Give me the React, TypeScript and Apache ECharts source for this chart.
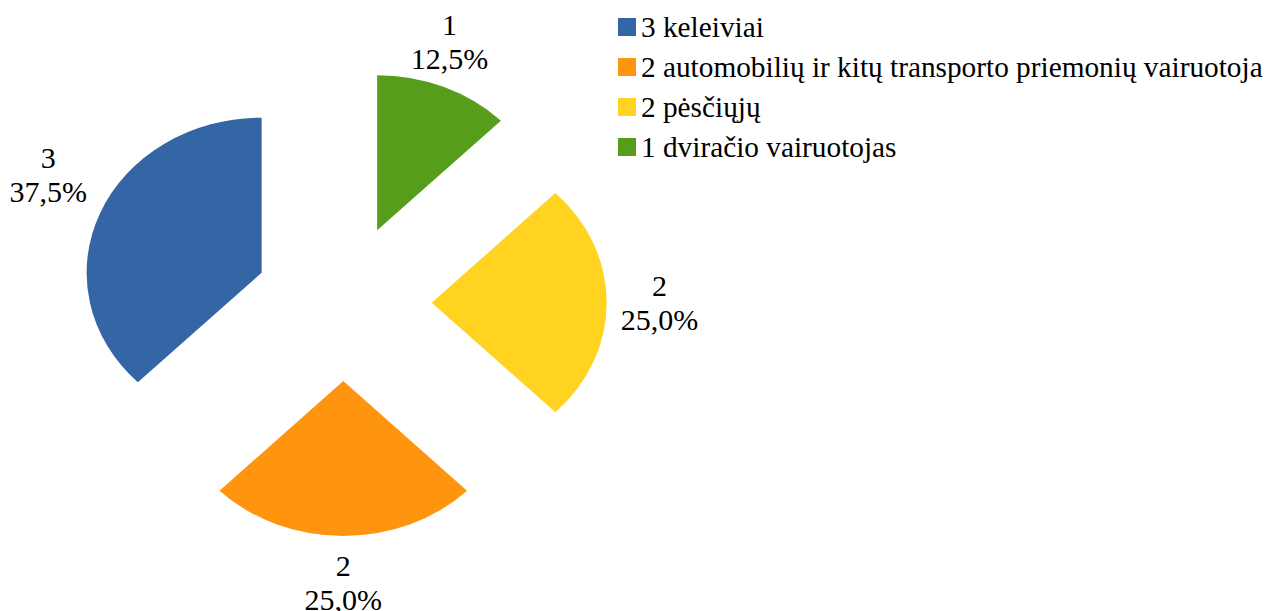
import React, { useEffect, useRef } from "react";
import * as echarts from "echarts";

// ---- data ----
const categories = [
  "3 keleiviai",
  "2 automobilių ir kitų transporto priemonių vairuotoja",
  "2 pėsčiųjų",
  "1 dviračio vairuotojas",
];
const values = [3, 2, 2, 1];
const colors = ["#3465a4", "#ff950e", "#ffd320", "#579d1c"];

// ---- layout ----
const CX = 343.3;
const CY = 302.7;
const R = 175;
const K = 0.886; // vertical squash of the pie
const OFFSET = 88.4; // explosion distance
const LABEL_GAP = 14;
const FONT_FAMILY = "Liberation Serif";
const LABEL_SIZE = 30;
const LEGEND_SIZE = 29.3;

const total = values.reduce((a, b) => a + b, 0);
const befores = values.map((_, i) => values.slice(0, i).reduce((a, b) => a + b, 0));

let measureCtx: CanvasRenderingContext2D | null = null;
function textWidth(s: string): number {
  if (!measureCtx) {
    const c = document.createElement("canvas");
    measureCtx = c.getContext("2d");
  }
  if (!measureCtx) return s.length * LABEL_SIZE * 0.5;
  measureCtx.font = `${LABEL_SIZE}px "${FONT_FAMILY}"`;
  return measureCtx.measureText(s).width;
}

function fmtPct(v: number): string {
  return ((v / total) * 100).toFixed(1).replace(".", ",") + "%";
}

function makeRenderItem(color: string) {
  return (params: any, api: any) => {
    const v = api.value(0) as number;
    const before = api.value(1) as number;
    // angles measured clockwise from 12 o'clock; slices run counter-clockwise
    const a0 = (-(before + v) / total) * Math.PI * 2;
    const a1 = (-before / total) * Math.PI * 2;
    const mid = (a0 + a1) / 2;
    const s = Math.sin(mid);
    const c = Math.cos(mid);
    const ax = CX + OFFSET * s;
    const ay = CY - OFFSET * c * K;

    const lx = ax + (R + LABEL_GAP) * s;
    const ly = ay - (R + LABEL_GAP) * c * K;
    const line1 = String(v);
    const line2 = fmtPct(v);
    const w = Math.max(textWidth(line1), textWidth(line2));
    let tx = lx;
    if (s > 0.39) tx = lx + w / 2;
    else if (s < -0.39) tx = lx - w / 2;
    let va = "middle";
    if (c > 0.37) va = "bottom";
    else if (c < -0.37) va = "top";

    return {
      type: "group",
      children: [
        {
          type: "sector",
          x: ax,
          y: ay,
          scaleY: K,
          shape: {
            cx: 0,
            cy: 0,
            r: R,
            r0: 0,
            startAngle: a0 - Math.PI / 2,
            endAngle: a1 - Math.PI / 2,
            clockwise: true,
          },
          style: { fill: color },
        },
        {
          type: "text",
          x: tx,
          y: ly,
          style: {
            text: `${line1}\n${line2}`,
            fill: "#000",
            fontFamily: FONT_FAMILY,
            fontSize: LABEL_SIZE,
            lineHeight: 34,
            align: "center",
            verticalAlign: va,
          },
        },
      ],
    };
  };
}

export default function App() {
  const ref = useRef<HTMLDivElement>(null);
  useEffect(() => {
    if (!ref.current) return;
    const chart = echarts.init(ref.current, undefined, { renderer: "svg" });
    chart.setOption({
      animation: false,
      backgroundColor: "#ffffff",
      legend: {
        data: categories,
        orient: "vertical",
        left: 613,
        top: 7,
        padding: 5,
        itemWidth: 18,
        itemHeight: 18,
        itemGap: 10,
        icon: "rect",
        selectedMode: false,
        textStyle: {
          fontFamily: FONT_FAMILY,
          fontSize: LEGEND_SIZE,
          lineHeight: 30,
          color: "#000",
        },
      },
      series: categories.map((name, i) => ({
        type: "custom",
        name,
        coordinateSystem: "none",
        itemStyle: { color: colors[i] },
        data: [[values[i], befores[i]]],
        renderItem: makeRenderItem(colors[i]),
        silent: true,
      })),
    });
    return () => chart.dispose();
  }, []);
  return (
    <div
      ref={ref}
      style={{ position: "absolute", left: 0, top: 0, width: 1277, height: 611 }}
    />
  );
}
